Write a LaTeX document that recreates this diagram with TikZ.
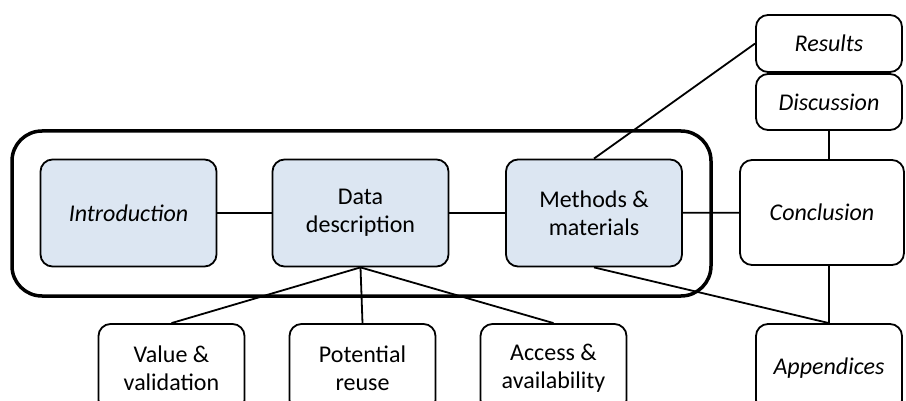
\documentclass[tikz,border=0pt]{standalone}
\usepackage{fontspec}
\setmainfont{Carlito}
\usepackage{tikz}
\usetikzlibrary{positioning}
\definecolor{boxblue}{HTML}{DCE6F2}

\tikzset{
  part/.style={draw=black, line width=1.8pt, rounded corners=12pt, align=center,
    font=\fontsize{24}{28}\selectfont, inner sep=0pt},
  core/.style={part, fill=boxblue, minimum width=176pt, minimum height=107pt},
  side/.style={part, fill=white, minimum width=146pt},
  link/.style={line width=1.8pt},
}

\begin{document}
\begin{tikzpicture}[x=1pt, y=-1pt]
  \useasboundingbox (0,0) rectangle (906,401);
  % frame around the core sections
  \draw[line width=3.5pt, rounded corners=30pt] (12,131) rectangle (711,296);

  \node [core] at (128.5,213) (intro) {\itshape Introduction};
  \node [core] at (360.5,213) (data) {Data\\description};
  \node [core] at (594,213) (meth) {Methods \&\\materials};
  \node [part, fill=white, minimum width=164pt, minimum height=105pt] at (822,212.5) (concl) {\itshape Conclusion};

  \node [side, minimum height=57pt] at (829,43.5) (res) {\itshape Results};
  \node [side, minimum height=56pt] at (829,102) (disc) {\itshape Discussion};

  \node [side, minimum height=88pt] at (171.5,368) (value) {Value \&\\validation};
  \node [side, minimum height=88pt] at (362.5,368) (reuse) {Potential\\reuse};
  \node [side, minimum height=88pt] at (553.5,368) (access) {Access \&\\availability};
  \node [side, minimum height=88pt] at (829,368) (app) {\itshape Appendices};

  \draw[link] (intro) -- (data);
  \draw[link] (data) -- (meth);
  \draw[link] (meth) -- (concl);
  \draw[link] (meth.north) -- (res.west);
  \draw[link] (disc.south) -- (disc.south |- concl.north);
  \draw[link] (app.north |- concl.south) -- (app.north);
  \draw[link] (meth.south) -- (app.north);
  \draw[link] (data.south) -- (value.north);
  \draw[link] (data.south) -- (reuse.north);
  \draw[link] (data.south) -- (access.north);
\end{tikzpicture}
\end{document}
